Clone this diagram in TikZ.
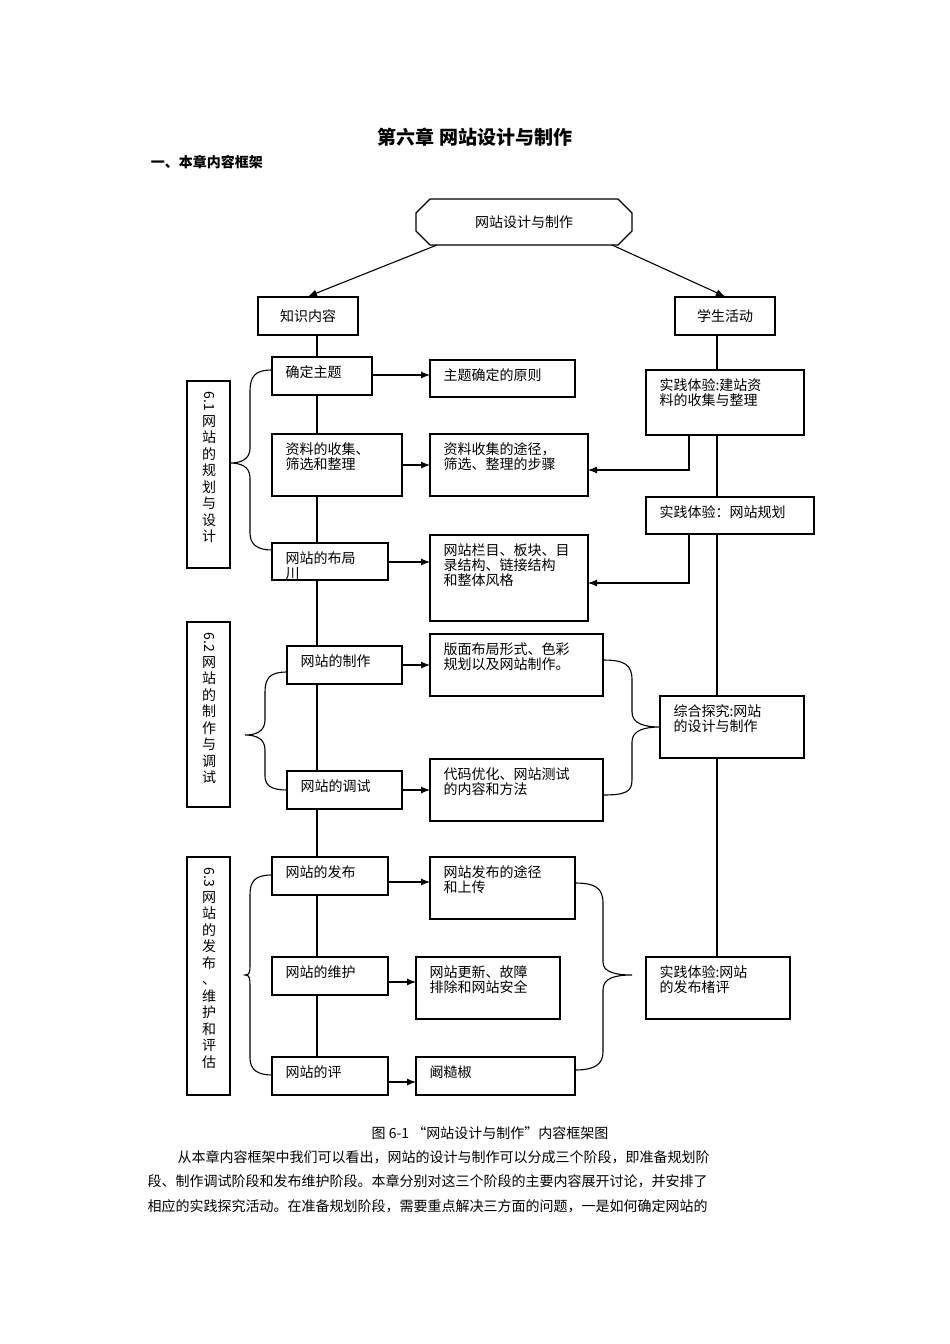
\documentclass[tikz,border=0pt]{standalone}
\usepackage{fontspec}
\setmainfont{Liberation Serif}
\newfontfamily\cjk{Noto Sans CJK SC}
\usetikzlibrary{arrows.meta,positioning}
\begin{document}
\begin{tikzpicture}[x=1pt,y=-1pt,line width=1.1pt,
  every node/.style={font=\cjk\fontsize{14}{15}\selectfont},
  bx/.style={draw,inner sep=0pt},
  arr/.style={-{Latex[length=9pt,width=7pt]}},
  lbl/.style={anchor=north west,inner sep=0pt,align=left}]
\useasboundingbox (0,0) rectangle (950,1344);
\node[font=\cjk\bfseries\fontsize{19}{21}\selectfont] (title) at (475,137) {第六章\ 网站设计与制作};
\node[anchor=west,font=\cjk\bfseries\fontsize{14}{15}\selectfont] (sub) at (147,162) {一、本章内容框架};
% top octagon
\draw (430,199) -- (618,199) -- (632,213) -- (632,231) -- (618,245) -- (430,245) -- (416,231) -- (416,213) -- cycle;
\node (top) at (524,222) {网站设计与制作};
\coordinate (tl) at (437,245); \coordinate (tr) at (612,245);
\node[bx,minimum width=100pt,minimum height=38pt] (zs) at (308,316) {知识内容};
\node[bx,minimum width=100pt,minimum height=38pt] (xs) at (725,316) {学生活动};
\draw[arr] (tl) -- (zs.north);
\draw[arr] (tr) -- (xs.north);
% spine lines
\coordinate (sp1) at (317,335); \coordinate (sp2) at (317,1058);
\draw (sp1) -- (sp2);
\coordinate (rp1) at (717,335); \coordinate (rp2) at (717,957);
\draw (rp1) -- (rp2);
% left boxes (fill white to cover spine)
\tikzset{lb/.style={draw,fill=white}}
\newcommand{\bxr}[6]{\draw[lb] (#1,#2) rectangle (#3,#4); \node[lbl] (#5) at (#1+13,#2+8) {#6};}
\bxr{272}{357}{372}{395}{a1}{确定主题}
\bxr{272}{434}{402}{496}{a2}{资料的收集、\\筛选和整理}
\bxr{272}{543}{388}{580}{a3}{网站的布局}
\node[lbl] (a3b) at (285,567) {川};
\bxr{287}{646}{402}{684}{b1}{网站的制作}
\bxr{287}{771}{402}{809}{b2}{网站的调试}
\bxr{272}{857}{388}{895}{c1}{网站的发布}
\bxr{272}{957}{388}{995}{c2}{网站的维护}
\bxr{272}{1057}{388}{1095}{c3}{网站的评}
% middle boxes
\bxr{430}{360}{575}{397}{m1}{主题确定的原则}
\bxr{430}{434}{588}{496}{m2}{资料收集的途径，\\筛选、整理的步骤}
\bxr{430}{535}{588}{621}{m3}{网站栏目、板块、目\\录结构、链接结构\\和整体风格}
\bxr{430}{634}{603}{696}{m4}{版面布局形式、色彩\\规划以及网站制作。}
\bxr{430}{759}{603}{821}{m5}{代码优化、网站测试\\的内容和方法}
\bxr{430}{857}{575}{919}{m6}{网站发布的途径\\和上传}
\bxr{416}{957}{560}{1019}{m7}{网站更新、故障\\排除和网站安全}
\bxr{416}{1057}{575}{1095}{m8}{阚糙椒}
% right boxes
\bxr{646}{370}{804}{435}{r1}{实践体验:建站资\\料的收集与整理}
\bxr{646}{497}{814}{534}{r2}{实践体验：网站规划}
\bxr{660}{696}{804}{758}{r3}{综合探究:网站\\的设计与制作}
\bxr{646}{957}{790}{1019}{r4}{实践体验:网站\\的发布楮评}
% arrows left->middle
\draw[arr] (372,375) -- (430,375);
\draw[arr] (402,465) -- (430,465);
\draw[arr] (388,562) -- (430,562);
\draw[arr] (402,665) -- (430,665);
\draw[arr] (402,790) -- (430,790);
\draw[arr] (388,882) -- (430,882);
\draw[arr] (388,982) -- (416,982);
\draw[arr] (388,1082) -- (416,1082);
% right feedback arrows
\coordinate (f1) at (689,435); \coordinate (f2) at (689,534);
\draw[arr] (f1) -- (689,470) -- (588,470);
\draw[arr] (f2) -- (689,583) -- (588,583);
% side boxes
\draw (187,381) rectangle (230,568);
\draw (187,622) rectangle (230,807);
\draw (187,857) rectangle (230,1095);
\newcommand{\vtext}[4]{\node[anchor=north,inner sep=0pt,rotate=-90,anchor=west] at (#1,#2) {#3};
  \node[anchor=north,inner sep=0pt,align=center,font=\cjk\fontsize{14}{16.5}\selectfont] at (#1,#2+24) {#4};}
\vtext{209}{391}{6.1}{网\\站\\的\\规\\划\\与\\设\\计}
\vtext{209}{632}{6.2}{网\\站\\的\\制\\作\\与\\调\\试}
\vtext{209}{867}{6.3}{网\\站\\的\\发\\布\\、\\维\\护\\和\\评\\估}
% braces
\draw (272,370) .. controls (255,370) and (250,376) .. (250,392) -- (250,448) .. controls (250,460) and (240,463) .. (230,463)
      .. controls (240,463) and (250,466) .. (250,478) -- (250,533) .. controls (250,545) and (258,550) .. (272,550);
\draw (287,672) .. controls (270,672) and (265,678) .. (265,692) -- (265,720) .. controls (265,732) and (255,735) .. (245,735)
      .. controls (255,735) and (265,738) .. (265,750) -- (265,776) .. controls (265,786) and (272,790) .. (287,790);
\draw (272,875) .. controls (255,875) and (250,881) .. (250,895) -- (250,962) .. controls (250,972) and (250,975) .. (245,975)
      .. controls (250,975) and (250,978) .. (250,990) -- (250,1058) .. controls (250,1070) and (258,1075) .. (272,1075);
\draw (603,660) .. controls (625,660) and (632,665) .. (632,680) -- (632,712) .. controls (632,724) and (645,727) .. (660,727)
      .. controls (645,727) and (632,730) .. (632,742) -- (632,780) .. controls (632,792) and (625,795) .. (603,795);
\draw (575,883) .. controls (595,883) and (603,888) .. (603,903) -- (603,962) .. controls (603,972) and (615,975) .. (632,975)
      .. controls (615,975) and (603,978) .. (603,990) -- (603,1052) .. controls (603,1064) and (595,1070) .. (575,1070);
% caption and text
\node (cap) at (490,1133) {图 6-1 “网站设计与制作”内容框架图};
\node[anchor=west,inner sep=0pt] (p1) at (177,1157) {从本章内容框架中我们可以看出，网站的设计与制作可以分成三个阶段，即准备规划阶};
\node[anchor=west,inner sep=0pt] (p2) at (147,1181) {段、制作调试阶段和发布维护阶段。本章分别对这三个阶段的主要内容展开讨论，并安排了};
\node[anchor=west,inner sep=0pt] (p3) at (147,1206) {相应的实践探究活动。在准备规划阶段，需要重点解决三方面的问题，一是如何确定网站的};
\end{tikzpicture}
\end{document}
